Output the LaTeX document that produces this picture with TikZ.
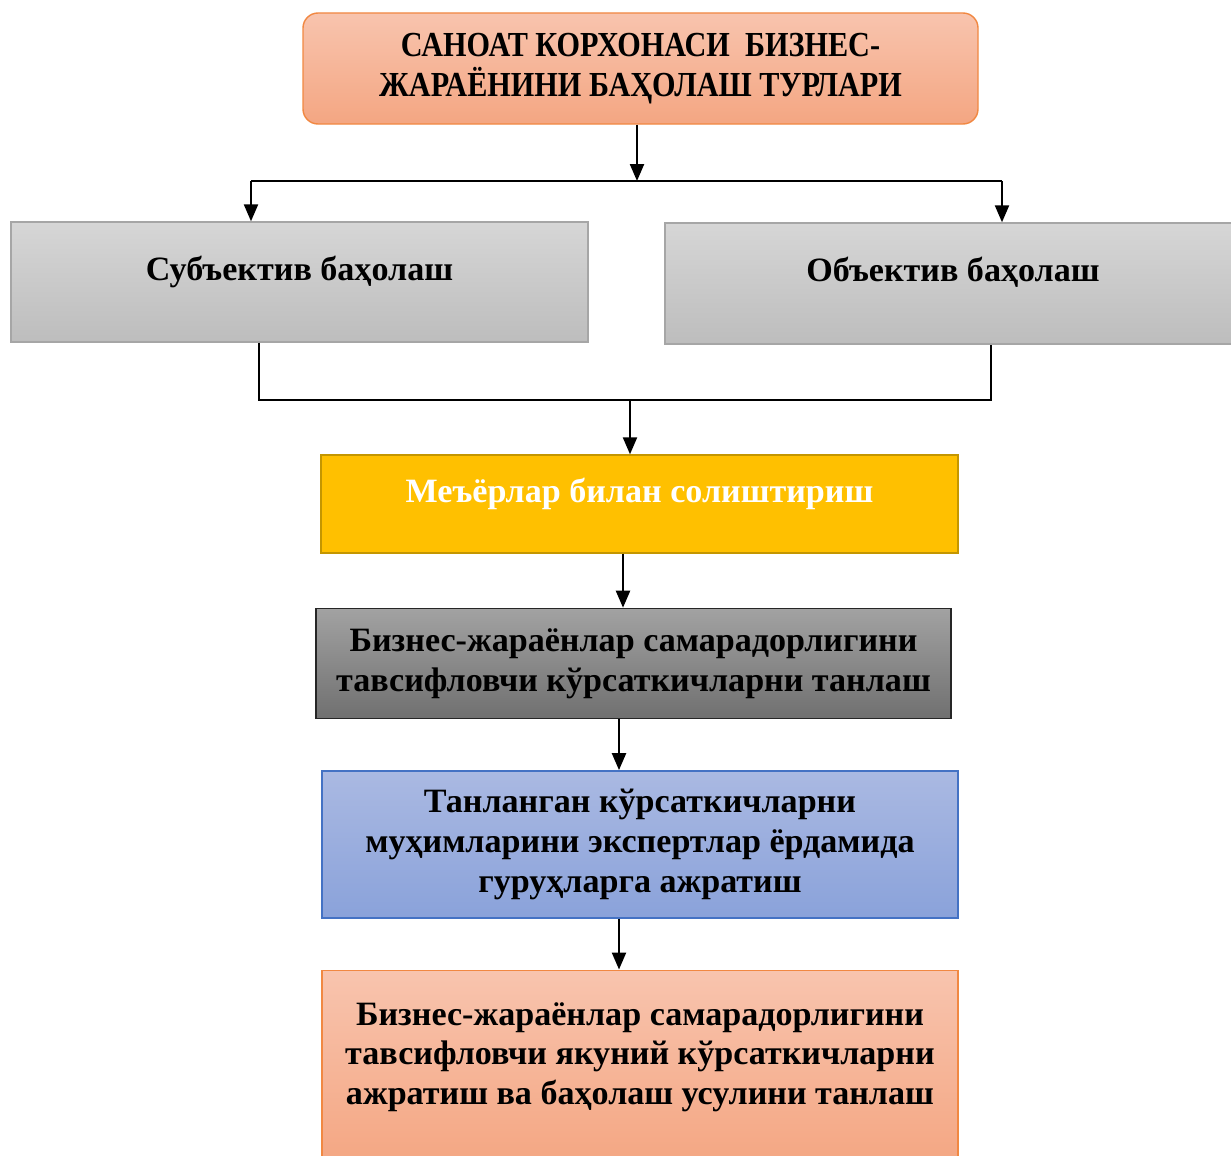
\documentclass[tikz,border=0pt]{standalone}
\usepackage{fontspec}
\setmainfont{Liberation Serif}
\newfontfamily\narrowfont[FakeStretch=0.86]{Liberation Serif}
\usetikzlibrary{positioning,arrows.meta}
\definecolor{peachtop}{RGB}{248,196,174}
\definecolor{peachbot}{RGB}{244,166,130}
\definecolor{peachedge}{RGB}{241,136,66}
\definecolor{greytop}{RGB}{214,214,214}
\definecolor{greybot}{RGB}{189,189,189}
\definecolor{greyedge}{RGB}{166,166,166}
\definecolor{goldfill}{RGB}{255,192,0}
\definecolor{goldedge}{RGB}{196,150,0}
\definecolor{darktop}{RGB}{162,162,162}
\definecolor{darkbot}{RGB}{112,112,112}
\definecolor{bluetop}{RGB}{170,185,226}
\definecolor{bluebot}{RGB}{138,162,218}
\definecolor{blueedge}{RGB}{68,114,196}
\tikzset{>={Triangle[length=0.34cm,width=0.28cm]}, node distance=1cm}
\tikzstyle{box} = [draw, rectangle, align=center, inner sep=0pt, line width=0.8pt]
\tikzstyle{peachbox} = [box, draw=peachedge, top color=peachtop, bottom color=peachbot]
\tikzstyle{greybox} = [box, draw=greyedge, top color=greytop, bottom color=greybot]
\tikzstyle{goldbox} = [box, draw=goldedge, fill=goldfill]
\tikzstyle{darkbox} = [box, draw=black!85, top color=darktop, bottom color=darkbot]
\tikzstyle{bluebox} = [box, draw=blueedge, top color=bluetop, bottom color=bluebot]
\tikzstyle{link} = [line width=1.3pt]
\begin{document}
\begin{tikzpicture}[font=\fontsize{19.4}{22.7}\selectfont\bfseries]
		\useasboundingbox (0,0) rectangle (24.62,-23.12);

		\node [peachbox, rounded corners=0.3cm, minimum width=13.5cm, minimum height=2.22cm, font=\fontsize{20}{22.7}\narrowfont\bfseries] (turlar) at (12.81,-1.37) {САНОАТ КОРХОНАСИ\ \ БИЗНЕС-\\ЖАРАЁНИНИ БАҲОЛАШ ТУРЛАРИ};

		\node [greybox, minimum width=11.54cm, minimum height=2.4cm, label={[yshift=0.2cm]center:Субъектив баҳолаш}] (subj) at (5.99,-5.64) {};
		\node [greybox, minimum width=11.36cm, minimum height=2.42cm, label={[xshift=0.08cm, yshift=0.23cm]center:Объектив баҳолаш}] (obj) at (18.98,-5.67) {};

		\node [goldbox, minimum width=12.74cm, minimum height=1.96cm, label={[yshift=0.2cm, text=white]center:Меъёрлар билан солиштириш}] (meyor) at (12.79,-10.08) {};
		\node [darkbox, below=1.08cm of meyor, xshift=-0.12cm, minimum width=12.7cm, minimum height=2.2cm] (tanlash) {Бизнес-жараёнлар самарадорлигини\\тавсифловчи кўрсаткичларни танлаш};
		\node [bluebox, below=1.02cm of tanlash, xshift=0.13cm, minimum width=12.72cm, minimum height=2.94cm] (guruh) {Танланган кўрсаткичларни\\муҳимларини экспертлар ёрдамида\\гуруҳларга ажратиш};
		\node [peachbox, below=1.02cm of guruh, minimum width=12.72cm, minimum height=3.92cm, label={[align=center, yshift=0.22cm]center:Бизнес-жараёнлар самарадорлигини\\тавсифловчи якуний кўрсаткичларни\\ажратиш ва баҳолаш усулини танлаш}] (yakun) {};

		\coordinate (split) at (12.74,-3.62);
		\coordinate (sl) at (5.02,-3.62);
		\coordinate (sr) at (20.04,-3.62);
		\coordinate (jl) at (5.18,-8.0);
		\coordinate (jr) at (19.82,-8.0);
		\coordinate (join) at (12.6,-8.0);
		\coordinate (a2) at (12.46,0);
		\coordinate (a3) at (12.38,0);

		\draw [link, ->] (turlar.south -| split) -- (split);
		\draw [link] (sl) -- (sr);
		\draw [link, ->] (sl) -- (sl |- subj.north);
		\draw [link, ->] (sr) -- (sr |- obj.north);

		\draw [link] (subj.south -| jl) -- (jl) -- (jr) -- (obj.south -| jr);
		\draw [link, ->] (join) -- (join |- meyor.north);

		\draw [link, ->] (meyor.south -| a2) -- (tanlash.north -| a2);
		\draw [link, ->] (tanlash.south -| a3) -- (guruh.north -| a3);
		\draw [link, ->] (guruh.south -| a3) -- (yakun.north -| a3);
	\end{tikzpicture}
\end{document}
